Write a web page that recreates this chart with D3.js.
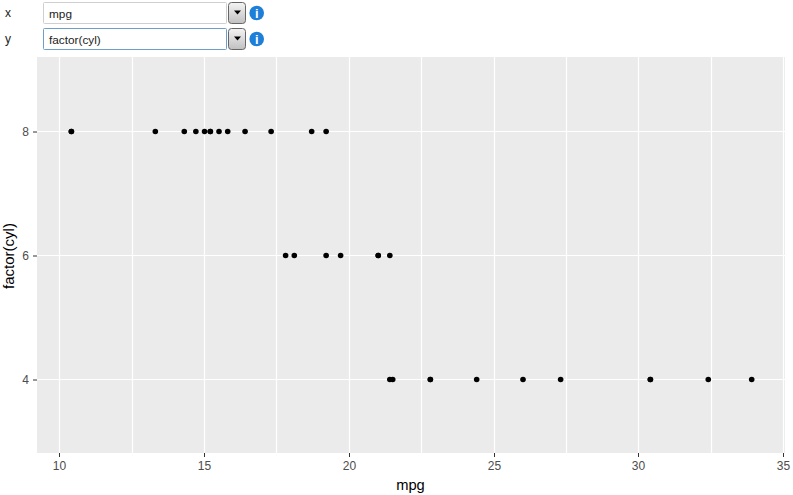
<!DOCTYPE html>
<html><head><meta charset="utf-8">
<script src="https://cdn.jsdelivr.net/npm/d3@7"></script>
<style>html,body{margin:0;padding:0;background:#fff}svg{display:block}text{font-family:"Liberation Sans",Arial,sans-serif}</style>
</head><body><svg id="c" width="793" height="495"></svg>
<script>
const mpg8 = [10.4,10.4,13.3,14.3,14.7,15,15.2,15.2,15.5,15.8,16.4,17.3,18.7,19.2];
const mpg6 = [17.8,18.1,19.2,19.7,21,21,21.4];
const mpg4 = [21.4,21.5,22.8,22.8,24.4,26,27.3,30.4,30.4,32.4,33.9];
const cylGroups = [8,6,4];
const xTicks = [10,15,20,25,30,35];
const xMinor = [12.5,17.5,22.5,27.5,32.5];
const yTicks = [4,6,8];
const selectLabels = ["x","y"];
const selectValues = ["mpg","factor(cyl)"];

const svg = d3.select("#c");
const x = d3.scaleLinear().domain([10,35]).range([59.8,783.55]);
const y = d3.scaleLinear().domain([4,8]).range([379.5,131.5]);
const px = d => Math.floor(x(d))+0.5;
const panel = {l:37,r:785,t:57,b:453};

svg.append("rect").attr("x",panel.l).attr("y",panel.t).attr("width",panel.r-panel.l).attr("height",panel.b-panel.t).attr("fill","#EBEBEB");
const grid = svg.append("g");
grid.selectAll("line.v").data(xMinor.concat(xTicks)).join("line").attr("x1",px).attr("x2",px).attr("y1",panel.t).attr("y2",panel.b).attr("stroke","#fff").attr("stroke-width",1.2);
grid.selectAll("line.h").data(yTicks).join("line").attr("x1",panel.l).attr("x2",panel.r).attr("y1",d=>y(d)).attr("y2",d=>y(d)).attr("stroke","#fff").attr("stroke-width",1.2);

const xAxis = d3.axisBottom(x).tickValues(xTicks).tickSize(4).tickPadding(4).tickFormat(d3.format("d"));
const gx = svg.append("g").attr("transform",`translate(0,${panel.b})`).call(xAxis);
const yAxis = d3.axisLeft(y).tickValues(yTicks).tickSize(4).tickPadding(4).tickFormat(d3.format("d"));
const gy = svg.append("g").attr("transform",`translate(${panel.l},0)`).call(yAxis);
[gx,gy].forEach(g=>{g.select(".domain").remove();g.selectAll("line").attr("stroke","#333");g.selectAll("text").attr("fill","#4D4D4D").attr("font-size",12).attr("font-family","'Liberation Sans',Arial,sans-serif");});
gx.selectAll(".tick").attr("transform",d=>`translate(${px(d)},0)`);
gx.selectAll(".tick line").attr("x1",0).attr("x2",0);

const series = [mpg8,mpg6,mpg4];
series.forEach((vals,i)=>{
  svg.append("g").selectAll("circle").data(vals).join("circle").attr("cx",d=>x(d)).attr("cy",y(cylGroups[i])).attr("r",2.8).attr("fill","#000");
});

svg.append("text").attr("x",410.5).attr("y",490).attr("text-anchor","middle").attr("font-size",14.7).attr("fill","#000").text("mpg");
svg.append("text").attr("transform","translate(14,256) rotate(-90)").attr("text-anchor","middle").attr("font-size",15).attr("fill","#000").text("factor(cyl)");

const rowY = [13,39];
selectLabels.forEach((lab,i)=>{
  const g = svg.append("g").attr("transform",`translate(0,${rowY[i]})`);
  g.append("text").attr("x",5).attr("y",4).attr("font-size",12).attr("font-family","'Open Sans',sans-serif").attr("fill","#222").text(lab);
  g.append("rect").attr("x",43.5).attr("y",-10.5).attr("width",183).attr("height",21).attr("rx",1).attr("fill","#fff").attr("stroke",i==1?"#6E9FC8":"#CFCFCF");
  g.append("text").attr("x",49).attr("y",4.5).attr("font-size",11.8).attr("font-family","'Open Sans',sans-serif").attr("fill","#222").text(selectValues[i]);
  const grad = "b"+i;
  const lg = svg.append("defs").append("linearGradient").attr("id",grad).attr("x1",0).attr("x2",0).attr("y1",0).attr("y2",1);
  lg.append("stop").attr("offset",0).attr("stop-color","#F4F4F4");
  lg.append("stop").attr("offset",1).attr("stop-color","#C0C0C0");
  g.append("rect").attr("x",228.5).attr("y",-10.5).attr("width",17).attr("height",21).attr("rx",3).attr("fill",`url(#${grad})`).attr("stroke","#666");
  g.append("path").attr("d","M234,-2.5h7l-3.5,4z").attr("fill","#000");
  g.append("circle").attr("cx",256.7).attr("cy",0).attr("r",7.3).attr("fill","#1E7FD8");
  g.append("text").attr("x",256.7).attr("y",5).attr("text-anchor","middle").attr("font-size",13).attr("font-weight","bold").attr("font-family","'Liberation Serif',serif").attr("fill","#fff").text("i");
});
</script></body></html>
